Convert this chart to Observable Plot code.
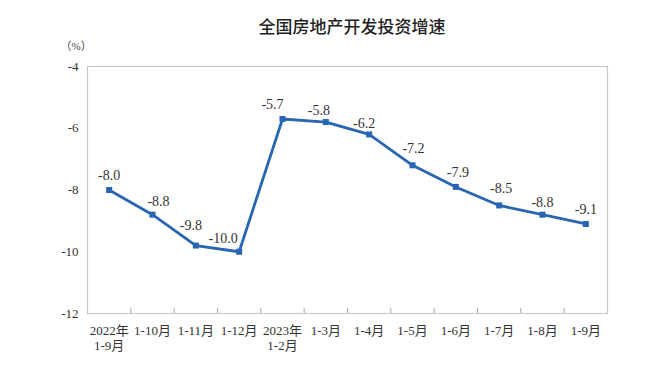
<!DOCTYPE html>
<html>
<head>
<meta charset="utf-8">
<script src="https://cdn.jsdelivr.net/npm/d3@7"></script>
<script src="https://cdn.jsdelivr.net/npm/@observablehq/plot@0.6"></script>
<style>
  html, body { margin: 0; padding: 0; background: #fff; }
  #wrap { position: relative; width: 660px; height: 365px; }
  #title { position: absolute; left: 0; top: 13px; width: 660px; padding-left: 44px; box-sizing: border-box;
    text-align: center; font-family: "Noto Sans CJK SC", sans-serif; font-size: 17px; font-weight: 500; color: #222; }
  #chart { position: absolute; left: 0; top: 0; }
  #chart svg text { font-family: "Liberation Serif", "Noto Sans CJK SC", serif; }
</style>
</head>
<body>
<div id="wrap">
  <div id="chart"></div>
  <div id="title">全国房地产开发投资增速</div>
</div>
<script>
const categories = ["2022年\n1-9月", "1-10月", "1-11月", "1-12月", "2023年\n1-2月", "1-3月", "1-4月", "1-5月", "1-6月", "1-7月", "1-8月", "1-9月"];
const values = [-8.0, -8.8, -9.8, -10.0, -5.7, -5.8, -6.2, -7.2, -7.9, -8.5, -8.8, -9.1];
const valueLabels = ["-8.0", "-8.8", "-9.8", "-10.0", "-5.7", "-5.8", "-6.2", "-7.2", "-7.9", "-8.5", "-8.8", "-9.1"];
const yTicks = [-12, -10, -8, -6, -4];
const unitLabel = "（%）";

// label placement offsets (pixels), kept separate from data
const labelDx = [0, 6, -5, -16, -10, -7, -5, 1, 2, 2, 0, 0];
const labelDy = [-14, -13, -20, -13, -14, -12, -11, -17, -14, -17, -12, -14];

const data = categories.map((c, i) => ({i, c, v: values[i], t: valueLabels[i]}));
const blue = "#2865b2";
const serif = "'Liberation Serif', 'Noto Sans CJK SC', serif";

const labelMarks = data.map((d, k) => Plot.text([d], {
  x: "i", y: "v", text: "t", dx: labelDx[k], dy: labelDy[k],
  fontSize: 14, fill: "#333", fontFamily: serif
}));

const chart = Plot.plot({
  width: 660,
  height: 365,
  marginTop: 66,
  marginBottom: 52,
  marginLeft: 87,
  marginRight: 53,
  style: {fontFamily: serif, background: "#fff", color: "#333"},
  x: {type: "linear", domain: [-0.5, categories.length - 0.5]},
  y: {domain: [-12, -4]},
  marks: [
    Plot.frame({stroke: "#c8c8c8", strokeWidth: 1.2}),
    Plot.axisY({ticks: yTicks, tickSize: 0, tickPadding: 9, fontSize: 13, label: null, tickFormat: d => String(d)}),
    Plot.axisX({ticks: d3.range(0.5, categories.length - 1, 1), tickSize: -5, tickFormat: () => "", label: null, stroke: "#aaa"}),
    Plot.axisX({ticks: d3.range(0, categories.length), tickSize: 0, tickPadding: 11, fontSize: 13, label: null,
      tickFormat: i => categories[i], lineHeight: 1.15}),
    Plot.text([unitLabel], {frameAnchor: "top-left", text: d => d, dx: -27, dy: -24, fontSize: 11, fill: "#444"}),
    Plot.line(data, {x: "i", y: "v", stroke: blue, strokeWidth: 2.8}),
    Plot.dot(data, {x: "i", y: "v", symbol: "square", r: 3.4, fill: blue, stroke: null}),
    ...labelMarks
  ]
});
document.getElementById("chart").appendChild(chart);
</script>
</body>
</html>
